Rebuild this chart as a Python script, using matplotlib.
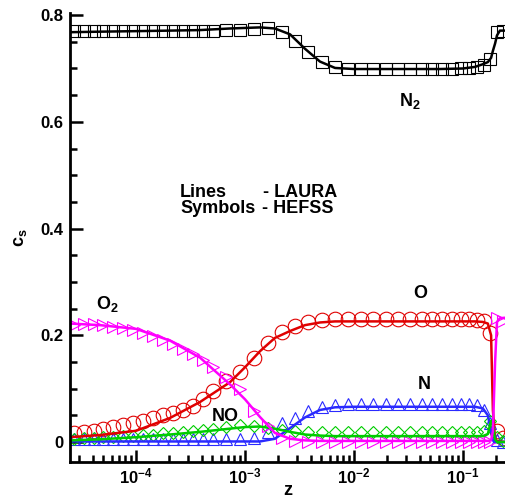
import numpy as np
import matplotlib.pyplot as plt
from matplotlib.ticker import FixedLocator, LogLocator, NullFormatter

plt.rcParams['font.family'] = ['Liberation Sans', 'DejaVu Sans']
plt.rcParams['font.weight'] = 'bold'
plt.rcParams['mathtext.fontset'] = 'custom'
plt.rcParams['mathtext.rm'] = 'Liberation Sans:bold'
plt.rcParams['mathtext.bf'] = 'Liberation Sans:bold'
plt.rcParams['mathtext.it'] = 'Liberation Sans:bold'

# LAURA solution (lines)
z_laura = [2.48e-5, 4.68e-5, 1.0e-4, 2.05e-4, 3.87e-4, 7.28e-4, 1.0e-3, 1.37e-3,
           1.88e-3, 2.59e-3, 3.55e-3, 4.87e-3, 6.70e-3, 1.0e-2, 1.73e-2, 3.26e-2,
           6.15e-2, 0.100, 0.129, 0.152, 0.169, 0.181, 0.188, 0.197, 0.205,
           0.218, 0.248]
n2_laura = [0.768, 0.769, 0.770, 0.771, 0.772, 0.775, 0.776, 0.777,
            0.775, 0.764, 0.737, 0.713, 0.701, 0.699, 0.699, 0.699,
            0.699, 0.700, 0.703, 0.708, 0.712, 0.720, 0.733, 0.747, 0.762,
            0.771, 0.771]
o_laura = [0.009, 0.013, 0.021, 0.045, 0.075, 0.112, 0.140, 0.170,
           0.195, 0.208, 0.219, 0.224, 0.226, 0.226, 0.226, 0.226,
           0.226, 0.226, 0.226, 0.225, 0.222, 0.200, 0.060, 0.005, 0.002,
           0.001, 0.000]
o2_laura = [0.222, 0.219, 0.212, 0.190, 0.158, 0.108, 0.080, 0.047,
            0.017, 0.006, 0.003, 0.002, 0.002, 0.002, 0.002, 0.002,
            0.002, 0.002, 0.002, 0.002, 0.002, 0.003, 0.020, 0.150, 0.225,
            0.232, 0.233]
n_laura = [0.001, 0.001, 0.001, 0.001, 0.001, 0.001, 0.001, 0.001,
           0.006, 0.026, 0.046, 0.060, 0.065, 0.066, 0.066, 0.066,
           0.066, 0.066, 0.066, 0.063, 0.050, 0.020, 0.003, 0.000, 0.000,
           0.000, 0.000]
no_laura = [0.003, 0.005, 0.009, 0.014, 0.019, 0.025, 0.028, 0.029,
            0.025, 0.019, 0.014, 0.012, 0.011, 0.011, 0.011, 0.011,
            0.011, 0.011, 0.011, 0.011, 0.015, 0.040, 0.030, 0.005, 0.000,
            0.000, 0.000]

# HEFSS solution (symbols)
z_hefss = [2.70e-5, 3.33e-5, 4.12e-5, 4.98e-5, 6.15e-5, 7.60e-5, 9.38e-5, 1.16e-4,
           1.43e-4, 1.77e-4, 2.18e-4, 2.70e-4, 3.33e-4, 4.12e-4, 5.08e-4, 6.70e-4,
           9.0e-4, 1.21e-3, 1.63e-3, 2.18e-3, 2.88e-3, 3.78e-3, 5.08e-3, 6.70e-3,
           8.81e-3, 1.16e-2, 1.49e-2, 1.97e-2, 2.54e-2, 3.26e-2, 4.21e-2, 5.20e-2,
           6.42e-2, 7.93e-2, 9.59e-2, 0.1135, 0.134, 0.156, 0.177, 0.205, 0.233]
n2_hefss = [0.770, 0.770, 0.770, 0.770, 0.770, 0.770, 0.770, 0.770,
            0.770, 0.770, 0.770, 0.770, 0.770, 0.770, 0.770, 0.772,
            0.773, 0.774, 0.775, 0.768, 0.751, 0.730, 0.712, 0.703,
            0.699, 0.699, 0.699, 0.699, 0.699, 0.699, 0.699, 0.699,
            0.699, 0.699, 0.700, 0.701, 0.703, 0.706, 0.717, 0.768, 0.770]
o_hefss = [0.017, 0.018, 0.021, 0.024, 0.028, 0.031, 0.035, 0.040,
           0.045, 0.050, 0.055, 0.060, 0.068, 0.080, 0.095, 0.114,
           0.132, 0.158, 0.186, 0.206, 0.217, 0.225, 0.229, 0.231,
           0.230, 0.230, 0.230, 0.230, 0.230, 0.230, 0.230, 0.230,
           0.230, 0.230, 0.230, 0.230, 0.229, 0.226, 0.205, 0.020, 0.008]
o2_hefss = [0.220, 0.221, 0.221, 0.219, 0.216, 0.213, 0.210, 0.205,
            0.199, 0.192, 0.184, 0.175, 0.165, 0.153, 0.140, 0.122,
            0.100, 0.058, 0.030, 0.008, 0.002, 0.000, 0.000, 0.000,
            0.000, 0.000, 0.000, 0.000, 0.000, 0.000, 0.000, 0.000,
            0.000, 0.000, 0.000, 0.000, 0.000, 0.000, 0.000, 0.232, 0.226]
n_hefss = [0.005, 0.005, 0.005, 0.005, 0.005, 0.005, 0.005, 0.005,
           0.005, 0.005, 0.005, 0.005, 0.005, 0.005, 0.005, 0.005,
           0.005, 0.008, 0.018, 0.035, 0.045, 0.058, 0.066, 0.070,
           0.071, 0.071, 0.071, 0.071, 0.071, 0.071, 0.071, 0.071,
           0.071, 0.071, 0.071, 0.071, 0.070, 0.060, 0.035, 0.003, 0.000]
no_hefss = [0.006, 0.007, 0.008, 0.009, 0.010, 0.011, 0.012, 0.013,
            0.014, 0.016, 0.017, 0.019, 0.021, 0.023, 0.025, 0.028,
            0.031, 0.030, 0.026, 0.022, 0.020, 0.018, 0.018, 0.018,
            0.018, 0.018, 0.018, 0.018, 0.018, 0.018, 0.018, 0.018,
            0.018, 0.018, 0.018, 0.018, 0.018, 0.020, 0.040, 0.010, 0.002]

species = [
    ('N2', n2_laura, n2_hefss, 'black', 's', 8.5),
    ('O', o_laura, o_hefss, '#e00000', 'o', 10.5),
    ('N', n_laura, n_hefss, '#2a2aff', '^', 9),
    ('NO', no_laura, no_hefss, '#00cc00', 'D', 6.5),
    ('O2', o2_laura, o2_hefss, '#ff00ff', '>', 9),
]

fig = plt.figure(figsize=(5.06, 5.03), dpi=100)
ax = fig.add_axes([70 / 506, 41 / 503, 436 / 506, 449 / 503])

for name, yl, yh, col, mk, ms in species:
    ax.plot(z_hefss, yh, linestyle='none', marker=mk, markersize=ms,
            markerfacecolor='none', markeredgecolor=col, markeredgewidth=0.8)
for name, yl, yh, col, mk, ms in species:
    ax.plot(z_laura, yl, color=col, linewidth=1.8)

ax.set_xscale('log')
ax.set_xlim(2.48e-5, 0.248)
ax.set_ylim(-0.0375, 0.804)

ax.spines['top'].set_visible(False)
ax.spines['right'].set_visible(False)
ax.spines['left'].set_linewidth(2)
ax.spines['bottom'].set_linewidth(2)

ax.xaxis.set_major_locator(FixedLocator([1e-4, 1e-3, 1e-2, 1e-1]))
ax.set_xticklabels([r'$\mathbf{10^{-4}}$', r'$\mathbf{10^{-3}}$',
                    r'$\mathbf{10^{-2}}$', r'$\mathbf{10^{-1}}$'])
ax.xaxis.set_minor_locator(LogLocator(base=10, subs=np.arange(2, 10)))
ax.xaxis.set_minor_formatter(NullFormatter())

ax.set_yticks([0, 0.2, 0.4, 0.6, 0.8])
ax.set_yticklabels(['0', '0.2', '0.4', '0.6', '0.8'])
ax.set_yticks(np.arange(0, 0.81, 0.05), minor=True)

ax.tick_params(which='both', direction='in', top=False, right=False,
               labelsize=12, width=1.8)
ax.tick_params(which='major', length=9, pad=5)
ax.tick_params(which='minor', length=5)
ax.tick_params(axis='x', which='major', pad=3)
for lab in ax.get_yticklabels():
    lab.set_fontweight('bold')

ax.set_xlabel('z', fontsize=13, fontweight='bold', labelpad=-3)
ax.set_ylabel(r'$\mathbf{c_s}$', fontsize=13, labelpad=8)

ax.text(0.0327, 0.640, r'N$_\mathbf{2}$', fontsize=13, fontweight='bold',
        ha='center', va='center')
ax.text(5.5e-5, 0.258, r'O$_\mathbf{2}$', fontsize=13, fontweight='bold',
        ha='center', va='center')
ax.text(0.0404, 0.279, 'O', fontsize=13, fontweight='bold', ha='center', va='center')
ax.text(0.0438, 0.107, 'N', fontsize=13, fontweight='bold', ha='center', va='center')
ax.text(6.56e-4, 0.047, 'NO', fontsize=13, fontweight='bold', ha='center', va='center')

ax.text(2.54e-4, 0.468, 'Lines', fontsize=13, fontweight='bold', va='center')
ax.text(1.46e-3, 0.468, '- LAURA', fontsize=13, fontweight='bold', va='center')
ax.text(2.54e-4, 0.438, 'Symbols', fontsize=13, fontweight='bold', va='center')
ax.text(1.42e-3, 0.438, '- HEFSS', fontsize=13, fontweight='bold', va='center')

fig.savefig('out.png', dpi=100)
